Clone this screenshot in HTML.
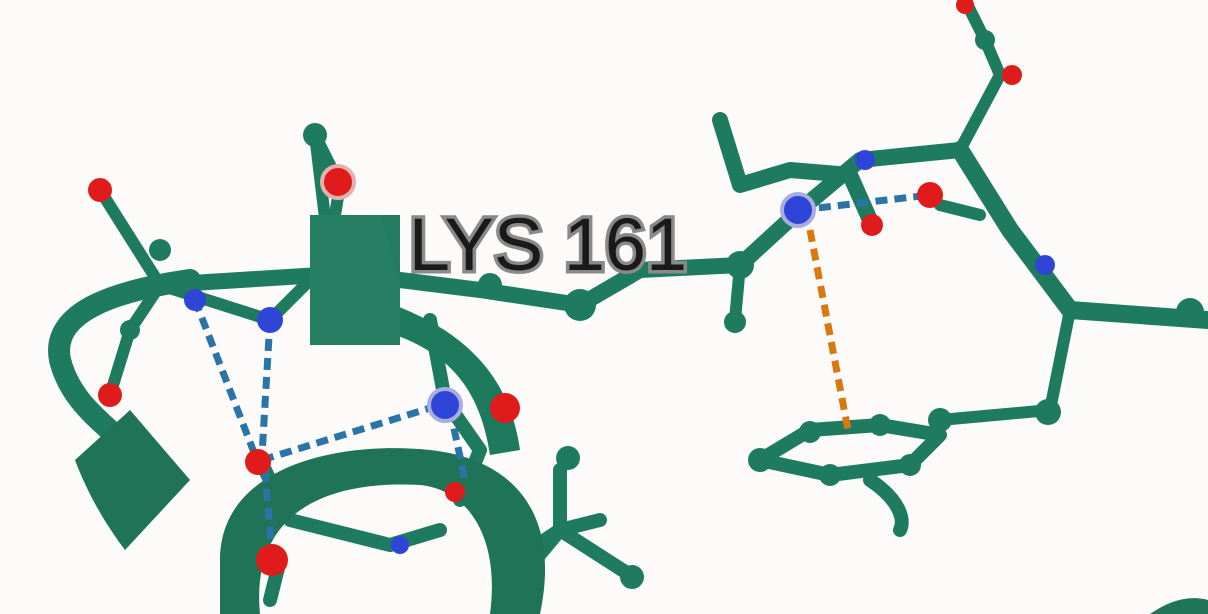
<!DOCTYPE html>
<html><head><meta charset="utf-8"><style>
html,body{margin:0;padding:0;background:#fcfbfa;}
svg{display:block}
</style></head><body>
<svg width="1208" height="614" viewBox="0 0 1208 614">
<rect width="1208" height="614" fill="#fcfbfa"/>
<g fill="none" stroke="#1f7b60" stroke-linecap="round" stroke-linejoin="round">
  <!-- left loop -->
  <path d="M190 280 C120 290 50 310 60 360 C70 400 100 420 120 440" stroke-width="22"/>
  <path d="M160 285 L320 275" stroke-width="16"/>
  <path d="M160 285 L100 190 M160 285 L130 330 L110 395" stroke-width="12"/>
  <path d="M160 285 L270 320 L330 260 L315 135" stroke-width="12"/>
  <path d="M315 135 L340 185 L335 215" stroke-width="12"/>
  <!-- central chain -->
  <path d="M400 280 L480 290 L580 305 L640 270 L740 265 L800 210 L860 160 L960 150" stroke-width="16"/>
  <path d="M720 120 L740 185 L790 170 L850 175 L870 220" stroke-width="16"/>
  <path d="M740 265 L735 320" stroke-width="12"/>
  <path d="M960 150 L1000 75 L985 40 L965 0" stroke-width="12"/>
  <path d="M960 150 L1010 230 L1070 310 L1208 320" stroke-width="18"/>
  <path d="M1070 310 L1050 410 L940 420" stroke-width="12"/>
  <path d="M940 205 L980 215" stroke-width="12"/>
  <!-- ring -->
  <path d="M760 460 L810 430 L880 425 L940 435 L910 465 L830 475 Z" stroke-width="14"/>
  <path d="M870 480 C900 500 905 520 900 530" stroke-width="14"/>
  <!-- helix internals -->
  <path d="M430 320 L445 400 L480 450 L460 500" stroke-width="14"/>
  <path d="M260 460 L290 520 L390 545 L440 530" stroke-width="14"/>
  <path d="M280 560 L270 600" stroke-width="14"/>
  <path d="M560 470 L560 530 L510 590 M560 530 L630 575 M560 530 L500 570 M560 530 L600 520" stroke-width="14"/>
</g>
<g>
  <path d="M220 560 C220 470 330 440 430 450 C520 460 560 520 540 614 L490 614 C500 540 470 490 420 485 C330 480 250 510 260 614 L220 614 Z" fill="#1f7357"/>
  <path d="M380 300 C470 330 510 380 520 450 L490 455 C480 390 450 350 380 330 Z" fill="#1e7a5c"/>
  <path d="M75 460 L130 410 L190 480 L125 550 C110 530 90 500 75 460 Z" fill="#1f7357"/>
  <rect x="310" y="215" width="90" height="130" fill="#237c60"/>
  <path d="M310 215 L380 215 L400 280 L400 345 L310 345 Z" fill="#267f63"/>
  <path d="M1150 614 C1170 600 1190 595 1208 600 L1208 614 Z" fill="#1f7357"/>
</g>
<g fill="none" stroke-width="7" stroke-dasharray="12 7">
  <path d="M195 300 L255 455" stroke="#2a74a8"/>
  <path d="M270 320 L262 455" stroke="#2a74a8"/>
  <path d="M262 460 L440 405" stroke="#2a74a8"/>
  <path d="M265 470 L272 555" stroke="#2a74a8"/>
  <path d="M450 410 L465 480" stroke="#2a74a8"/>
  <path d="M800 210 L930 195" stroke="#2a74a8"/>
  <path d="M810 230 L848 430" stroke="#d9780f"/>
</g>
<g>
  <circle cx="100" cy="190" r="12" fill="#e01b1b"/>
  <circle cx="110" cy="395" r="12" fill="#e01b1b"/>
  <circle cx="338" cy="182" r="16" fill="#e01b1b" stroke="#e6b0b0" stroke-width="4"/>
  <circle cx="258" cy="462" r="13" fill="#e01b1b"/>
  <circle cx="272" cy="560" r="16" fill="#e01b1b"/>
  <circle cx="505" cy="408" r="15" fill="#e01b1b"/>
  <circle cx="455" cy="492" r="10" fill="#e01b1b"/>
  <circle cx="930" cy="195" r="13" fill="#e01b1b"/>
  <circle cx="872" cy="225" r="11" fill="#e01b1b"/>
  <circle cx="1012" cy="75" r="10" fill="#e01b1b"/>
  <circle cx="965" cy="5" r="9" fill="#e01b1b"/>
  <circle cx="270" cy="320" r="13" fill="#2f45d8"/>
  <circle cx="195" cy="300" r="11" fill="#2f45d8"/>
  <circle cx="445" cy="405" r="16" fill="#2f45d8" stroke="#a9aee0" stroke-width="4"/>
  <circle cx="798" cy="210" r="16" fill="#2f45d8" stroke="#a9aee0" stroke-width="4"/>
  <circle cx="865" cy="160" r="10" fill="#2f45d8"/>
  <circle cx="1045" cy="265" r="10" fill="#2f45d8"/>
  <circle cx="400" cy="545" r="9" fill="#2f45d8"/>
  <g fill="#1f7b60">
    <circle cx="315" cy="135" r="12"/><circle cx="160" cy="250" r="11"/>
    <circle cx="130" cy="330" r="10"/><circle cx="580" cy="305" r="16"/>
    <circle cx="740" cy="265" r="14"/><circle cx="735" cy="322" r="11"/>
    <circle cx="1048" cy="412" r="13"/><circle cx="1190" cy="312" r="14"/>
    <circle cx="940" cy="420" r="12"/><circle cx="760" cy="460" r="12"/>
    <circle cx="810" cy="432" r="11"/><circle cx="880" cy="425" r="11"/>
    <circle cx="910" cy="465" r="11"/><circle cx="830" cy="475" r="11"/>
    <circle cx="568" cy="458" r="12"/><circle cx="632" cy="577" r="12"/>
    <circle cx="985" cy="40" r="10"/><circle cx="490" cy="285" r="12"/>
  </g>
</g>
<text x="548" y="270" text-anchor="middle" font-family="Liberation Sans, sans-serif" font-size="74" fill="#1a1a1a" stroke="#8a8a8a" stroke-width="7" paint-order="stroke">LYS 161</text>
</svg>
</body></html>
